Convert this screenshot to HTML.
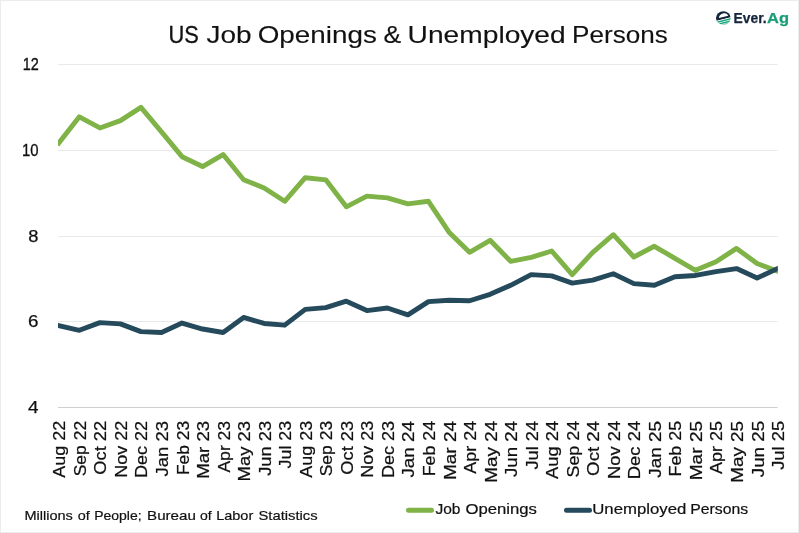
<!DOCTYPE html>
<html lang="en"><head><meta charset="utf-8"><title>US Job Openings &amp; Unemployed Persons</title>
<style>
html,body{margin:0;padding:0;background:#fff;}
body{width:799px;height:533px;overflow:hidden;font-family:"Liberation Sans",sans-serif;}
svg{display:block;position:absolute;left:0;top:0;}
text{font-family:"Liberation Sans",sans-serif;fill:#111111;stroke:#111111;stroke-width:0.25px;stroke-linejoin:round;}
.t{stroke-width:0.3px}.y{stroke-width:0.4px}.f{stroke-width:0.2px}.l{stroke-width:0.22px}.x{stroke-width:0.25px}
</style></head><body>
<svg width="799" height="533" viewBox="0 0 799 533">
<rect x="0.5" y="0.5" width="798" height="532" fill="#fff" stroke="#ececec" stroke-width="1"/>

<line x1="58.0" x2="777.6" y1="64.5" y2="64.5" stroke="#e9e9e9" stroke-width="1"/>
<line x1="58.0" x2="777.6" y1="150.5" y2="150.5" stroke="#e9e9e9" stroke-width="1"/>
<line x1="58.0" x2="777.6" y1="236.5" y2="236.5" stroke="#e9e9e9" stroke-width="1"/>
<line x1="58.0" x2="777.6" y1="321.5" y2="321.5" stroke="#e9e9e9" stroke-width="1"/>
<line x1="58.0" x2="777.6" y1="407.5" y2="407.5" stroke="#cfcfcf" stroke-width="1"/>
<text style="stroke-width:0.36px" x="22.70" y="69.6" font-size="17.4" textLength="16.06" lengthAdjust="spacingAndGlyphs">12</text>
<text style="stroke-width:0.33px" x="22.00" y="155.6" font-size="17.4" textLength="16.52" lengthAdjust="spacingAndGlyphs">10</text>
<text style="stroke-width:0.25px" x="28.20" y="241.6" font-size="17.4" textLength="10.18" lengthAdjust="spacingAndGlyphs">8</text>
<text style="stroke-width:0.25px" x="27.95" y="326.6" font-size="17.4" textLength="10.45" lengthAdjust="spacingAndGlyphs">6</text>
<text style="stroke-width:0.25px" x="27.91" y="412.6" font-size="17.4" textLength="10.54" lengthAdjust="spacingAndGlyphs">4</text>
<text style="stroke-width:0.31px" x="168.43" y="42.6" font-size="23.6" textLength="30.33" lengthAdjust="spacingAndGlyphs">US</text>
<text style="stroke-width:0.12px" x="206.46" y="42.6" font-size="23.6" textLength="45.02" lengthAdjust="spacingAndGlyphs">Job</text>
<text style="stroke-width:0.12px" x="257.71" y="42.6" font-size="23.6" textLength="119.14" lengthAdjust="spacingAndGlyphs">Openings</text>
<text style="stroke-width:0.12px" x="383.45" y="42.6" font-size="23.6" textLength="17.67" lengthAdjust="spacingAndGlyphs">&amp;</text>
<text style="stroke-width:0.12px" x="407.64" y="42.6" font-size="23.6" textLength="158.07" lengthAdjust="spacingAndGlyphs">Unemployed</text>
<text style="stroke-width:0.12px" x="572.04" y="42.6" font-size="23.6" textLength="95.71" lengthAdjust="spacingAndGlyphs">Persons</text>
<clipPath id="c"><rect x="58.0" y="50" width="719.80" height="370"/></clipPath>
<g clip-path="url(#c)" fill="none" stroke-width="4.9" stroke-linejoin="round" stroke-linecap="square">
<polyline points="58.80,142.96 79.34,116.81 99.87,127.96 120.41,120.67 140.95,107.38 161.49,131.81 182.02,156.68 202.56,166.54 223.10,154.54 243.63,179.83 264.17,187.98 284.71,201.27 305.25,177.69 325.78,179.83 346.32,206.84 366.86,196.13 387.39,197.84 407.93,203.84 428.47,201.27 449.01,232.14 469.54,252.29 490.08,240.29 510.62,261.30 531.15,257.44 551.69,251.01 572.23,274.59 592.77,252.29 613.30,234.71 633.84,257.01 654.38,246.29 674.91,258.29 695.45,270.30 715.99,261.73 736.53,248.43 757.06,263.44 777.60,271.16" stroke="#7fb347"/>
<polyline points="58.80,325.61 79.34,330.32 99.87,322.61 120.41,323.89 140.95,331.61 161.49,332.47 182.02,323.04 202.56,329.04 223.10,332.47 243.63,317.46 264.17,323.47 284.71,325.18 305.25,309.32 325.78,307.60 346.32,301.17 366.86,310.60 387.39,308.03 407.93,314.89 428.47,301.60 449.01,300.31 469.54,300.74 490.08,294.31 510.62,285.31 531.15,274.59 551.69,275.87 572.23,283.16 592.77,280.16 613.30,273.73 633.84,283.59 654.38,285.31 674.91,276.73 695.45,275.44 715.99,271.59 736.53,268.58 757.06,278.02 777.60,268.58" stroke="#254a5c"/>
</g>
<text style="stroke-width:0.24px" transform="translate(65.30,0) rotate(-90)" x="-477.78" y="0" font-size="16.2" textLength="56.89" lengthAdjust="spacingAndGlyphs">Aug 22</text>
<text style="stroke-width:0.24px" transform="translate(85.84,0) rotate(-90)" x="-476.32" y="0" font-size="16.2" textLength="55.44" lengthAdjust="spacingAndGlyphs">Sep 22</text>
<text style="stroke-width:0.24px" transform="translate(106.37,0) rotate(-90)" x="-474.72" y="0" font-size="16.2" textLength="53.85" lengthAdjust="spacingAndGlyphs">Oct 22</text>
<text style="stroke-width:0.24px" transform="translate(126.91,0) rotate(-90)" x="-477.83" y="0" font-size="16.2" textLength="56.96" lengthAdjust="spacingAndGlyphs">Nov 22</text>
<text style="stroke-width:0.24px" transform="translate(147.45,0) rotate(-90)" x="-478.03" y="0" font-size="16.2" textLength="57.16" lengthAdjust="spacingAndGlyphs">Dec 22</text>
<text style="stroke-width:0.24px" transform="translate(167.99,0) rotate(-90)" x="-476.43" y="0" font-size="16.2" textLength="55.54" lengthAdjust="spacingAndGlyphs">Jan 23</text>
<text style="stroke-width:0.24px" transform="translate(188.52,0) rotate(-90)" x="-475.13" y="0" font-size="16.2" textLength="54.26" lengthAdjust="spacingAndGlyphs">Feb 23</text>
<text style="stroke-width:0.24px" transform="translate(209.06,0) rotate(-90)" x="-478.89" y="0" font-size="16.2" textLength="58.02" lengthAdjust="spacingAndGlyphs">Mar 23</text>
<text style="stroke-width:0.24px" transform="translate(229.60,0) rotate(-90)" x="-472.58" y="0" font-size="16.2" textLength="51.69" lengthAdjust="spacingAndGlyphs">Apr 23</text>
<text style="stroke-width:0.24px" transform="translate(250.13,0) rotate(-90)" x="-481.49" y="0" font-size="16.2" textLength="60.62" lengthAdjust="spacingAndGlyphs">May 23</text>
<text style="stroke-width:0.24px" transform="translate(270.67,0) rotate(-90)" x="-475.83" y="0" font-size="16.2" textLength="54.94" lengthAdjust="spacingAndGlyphs">Jun 23</text>
<text style="stroke-width:0.24px" transform="translate(291.21,0) rotate(-90)" x="-468.42" y="0" font-size="16.2" textLength="47.54" lengthAdjust="spacingAndGlyphs">Jul 23</text>
<text style="stroke-width:0.24px" transform="translate(311.75,0) rotate(-90)" x="-477.78" y="0" font-size="16.2" textLength="56.89" lengthAdjust="spacingAndGlyphs">Aug 23</text>
<text style="stroke-width:0.24px" transform="translate(332.28,0) rotate(-90)" x="-476.32" y="0" font-size="16.2" textLength="55.44" lengthAdjust="spacingAndGlyphs">Sep 23</text>
<text style="stroke-width:0.24px" transform="translate(352.82,0) rotate(-90)" x="-474.72" y="0" font-size="16.2" textLength="53.85" lengthAdjust="spacingAndGlyphs">Oct 23</text>
<text style="stroke-width:0.24px" transform="translate(373.36,0) rotate(-90)" x="-477.83" y="0" font-size="16.2" textLength="56.96" lengthAdjust="spacingAndGlyphs">Nov 23</text>
<text style="stroke-width:0.24px" transform="translate(393.89,0) rotate(-90)" x="-478.03" y="0" font-size="16.2" textLength="57.16" lengthAdjust="spacingAndGlyphs">Dec 23</text>
<text style="stroke-width:0.24px" transform="translate(414.43,0) rotate(-90)" x="-477.63" y="0" font-size="16.2" textLength="56.74" lengthAdjust="spacingAndGlyphs">Jan 24</text>
<text style="stroke-width:0.24px" transform="translate(434.97,0) rotate(-90)" x="-476.33" y="0" font-size="16.2" textLength="55.46" lengthAdjust="spacingAndGlyphs">Feb 24</text>
<text style="stroke-width:0.24px" transform="translate(455.51,0) rotate(-90)" x="-480.09" y="0" font-size="16.2" textLength="59.22" lengthAdjust="spacingAndGlyphs">Mar 24</text>
<text style="stroke-width:0.24px" transform="translate(476.04,0) rotate(-90)" x="-473.78" y="0" font-size="16.2" textLength="52.89" lengthAdjust="spacingAndGlyphs">Apr 24</text>
<text style="stroke-width:0.24px" transform="translate(496.58,0) rotate(-90)" x="-482.69" y="0" font-size="16.2" textLength="61.82" lengthAdjust="spacingAndGlyphs">May 24</text>
<text style="stroke-width:0.24px" transform="translate(517.12,0) rotate(-90)" x="-477.03" y="0" font-size="16.2" textLength="56.14" lengthAdjust="spacingAndGlyphs">Jun 24</text>
<text style="stroke-width:0.24px" transform="translate(537.65,0) rotate(-90)" x="-469.62" y="0" font-size="16.2" textLength="48.74" lengthAdjust="spacingAndGlyphs">Jul 24</text>
<text style="stroke-width:0.24px" transform="translate(558.19,0) rotate(-90)" x="-478.98" y="0" font-size="16.2" textLength="58.09" lengthAdjust="spacingAndGlyphs">Aug 24</text>
<text style="stroke-width:0.24px" transform="translate(578.73,0) rotate(-90)" x="-477.52" y="0" font-size="16.2" textLength="56.64" lengthAdjust="spacingAndGlyphs">Sep 24</text>
<text style="stroke-width:0.24px" transform="translate(599.27,0) rotate(-90)" x="-475.92" y="0" font-size="16.2" textLength="55.05" lengthAdjust="spacingAndGlyphs">Oct 24</text>
<text style="stroke-width:0.24px" transform="translate(619.80,0) rotate(-90)" x="-479.03" y="0" font-size="16.2" textLength="58.16" lengthAdjust="spacingAndGlyphs">Nov 24</text>
<text style="stroke-width:0.24px" transform="translate(640.34,0) rotate(-90)" x="-479.23" y="0" font-size="16.2" textLength="58.36" lengthAdjust="spacingAndGlyphs">Dec 24</text>
<text style="stroke-width:0.24px" transform="translate(660.88,0) rotate(-90)" x="-477.83" y="0" font-size="16.2" textLength="56.94" lengthAdjust="spacingAndGlyphs">Jan 25</text>
<text style="stroke-width:0.24px" transform="translate(681.41,0) rotate(-90)" x="-476.53" y="0" font-size="16.2" textLength="55.66" lengthAdjust="spacingAndGlyphs">Feb 25</text>
<text style="stroke-width:0.24px" transform="translate(701.95,0) rotate(-90)" x="-480.29" y="0" font-size="16.2" textLength="59.42" lengthAdjust="spacingAndGlyphs">Mar 25</text>
<text style="stroke-width:0.24px" transform="translate(722.49,0) rotate(-90)" x="-473.98" y="0" font-size="16.2" textLength="53.09" lengthAdjust="spacingAndGlyphs">Apr 25</text>
<text style="stroke-width:0.24px" transform="translate(743.03,0) rotate(-90)" x="-482.89" y="0" font-size="16.2" textLength="62.02" lengthAdjust="spacingAndGlyphs">May 25</text>
<text style="stroke-width:0.24px" transform="translate(763.56,0) rotate(-90)" x="-477.23" y="0" font-size="16.2" textLength="56.34" lengthAdjust="spacingAndGlyphs">Jun 25</text>
<text style="stroke-width:0.24px" transform="translate(784.10,0) rotate(-90)" x="-469.82" y="0" font-size="16.2" textLength="48.94" lengthAdjust="spacingAndGlyphs">Jul 25</text>
<text style="stroke-width:0.20px" x="24.51" y="520.2" font-size="13.2" textLength="48.38" lengthAdjust="spacingAndGlyphs">Millions</text>
<text style="stroke-width:0.20px" x="77.78" y="520.2" font-size="13.2" textLength="11.99" lengthAdjust="spacingAndGlyphs">of</text>
<text style="stroke-width:0.20px" x="94.19" y="520.2" font-size="13.2" textLength="47.46" lengthAdjust="spacingAndGlyphs">People;</text>
<text style="stroke-width:0.20px" x="147.04" y="520.2" font-size="13.2" textLength="48.86" lengthAdjust="spacingAndGlyphs">Bureau</text>
<text style="stroke-width:0.20px" x="200.07" y="520.2" font-size="13.2" textLength="11.70" lengthAdjust="spacingAndGlyphs">of</text>
<text style="stroke-width:0.20px" x="216.22" y="520.2" font-size="13.2" textLength="37.02" lengthAdjust="spacingAndGlyphs">Labor</text>
<text style="stroke-width:0.20px" x="258.46" y="520.2" font-size="13.2" textLength="59.14" lengthAdjust="spacingAndGlyphs">Statistics</text>
<line x1="408.5" x2="431.5" y1="510.3" y2="510.3" stroke="#7fb347" stroke-width="5" stroke-linecap="round"/>
<line x1="566.5" x2="589.5" y1="510.3" y2="510.3" stroke="#254a5c" stroke-width="5" stroke-linecap="round"/>
<text style="stroke-width:0.20px" x="435.46" y="514.4" font-size="14.6" textLength="25.02" lengthAdjust="spacingAndGlyphs">Job</text>
<text style="stroke-width:0.20px" x="465.46" y="514.4" font-size="14.6" textLength="71.54" lengthAdjust="spacingAndGlyphs">Openings</text>
<text style="stroke-width:0.20px" x="592.25" y="514.4" font-size="14.6" textLength="94.06" lengthAdjust="spacingAndGlyphs">Unemployed</text>
<text style="stroke-width:0.20px" x="690.25" y="514.4" font-size="14.6" textLength="57.94" lengthAdjust="spacingAndGlyphs">Persons</text>
<g id="logo">
<clipPath id="gc"><ellipse cx="0" cy="0" rx="7.35" ry="6.65"/></clipPath>
<g transform="translate(723.35,17.95)">
<g clip-path="url(#gc)">
<rect x="-8" y="-8" width="16" height="16" fill="#ffffff"/>
<g transform="rotate(-14)">
<rect x="-9" y="-9" width="18" height="10.2" fill="#15253c"/>
<path d="M-4.3,-1.0 C-4.0,-3.2 -1.8,-4.5 0.6,-4.5 C3.0,-4.5 4.9,-3.2 5.3,-1.0 Z" fill="#ffffff"/>
<rect x="-9" y="1.2" width="18" height="8" fill="#effbf7"/>
<rect x="-9" y="1.85" width="18" height="1.55" fill="#1fa67e"/>
<rect x="-9" y="4.0" width="18" height="1.5" fill="#1fa67e"/>
<rect x="-9" y="6.1" width="18" height="2.5" fill="#1fa67e"/>
</g>
</g>
</g>
<text x="733.56" y="22.55" font-size="13.9" font-weight="bold" style="fill:#15253c;stroke:#15253c;stroke-width:0.25" textLength="33.07" lengthAdjust="spacingAndGlyphs">Ever.</text>
<text x="767.11" y="22.75" font-size="14.3" font-weight="bold" style="fill:#1a9d78;stroke:#1a9d78;stroke-width:0.25" textLength="21.96" lengthAdjust="spacingAndGlyphs">Ag</text>
</g>

</svg></body></html>
